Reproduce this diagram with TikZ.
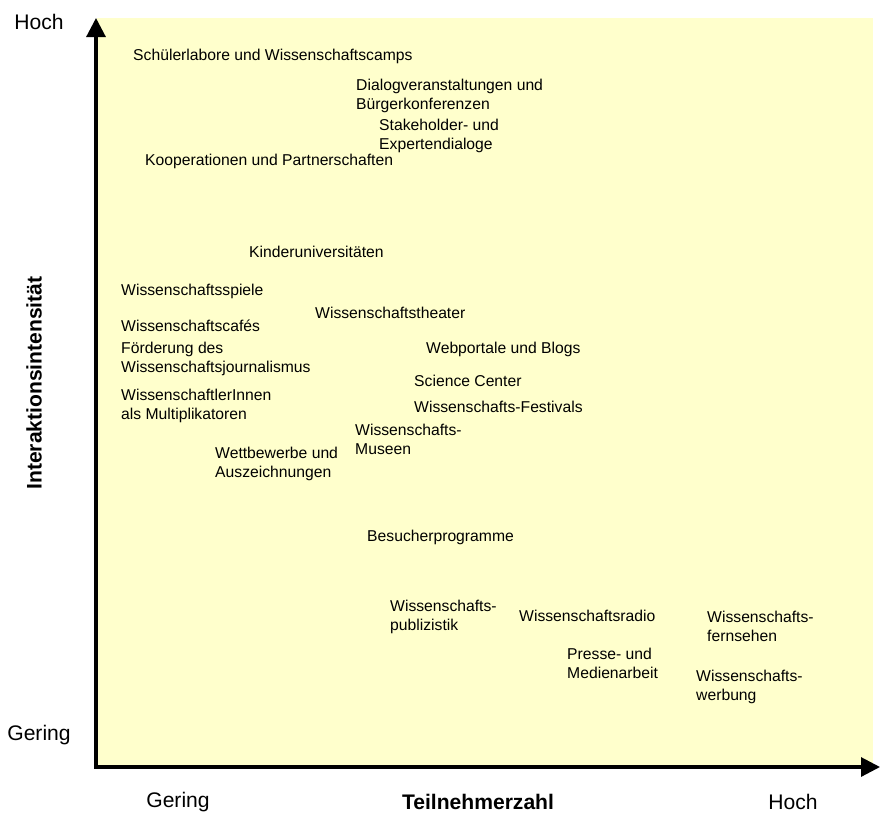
\documentclass[tikz,border=0pt]{standalone}
\usepackage{fontspec}
\setmainfont{Liberation Sans}
\usetikzlibrary{arrows.meta}
\definecolor{paleyellow}{RGB}{255,255,204}
\tikzset{
  item/.style={anchor=west,inner sep=0pt,align=left,font=\fontsize{13.4}{16.2}\selectfont},
  level/.style={inner sep=0pt,font=\fontsize{18}{21}\selectfont},
  title/.style={inner sep=0pt,font=\fontsize{18}{21}\selectfont\bfseries},
  axis/.style={line width=2.6pt,{Triangle[length=0.57cm,width=0.57cm]}-{Triangle[length=0.57cm,width=0.57cm]}}
}

\begin{document}
\begin{tikzpicture}[x=0.03cm,y=-0.03cm]
\useasboundingbox (0,0) rectangle (880,813);
\fill[paleyellow] (97,18) rectangle (873,767);
\coordinate (top) at (96,18);
\coordinate (o) at (96,767);
\coordinate (right) at (880,767);
\draw[axis] (top)--(o)--(right);
\node[level] (yhigh) at (39,22) {Hoch};
\node[level] (ylow) at (39,735) {Gering};
\node[level] (xlow) at (178,802) {Gering};
\node[title] (xname) at (478,802) {Teilnehmerzahl};
\node[level] (xhigh) at (793,802) {Hoch};
\node[title,rotate=90] (yname) at (34,383) {Interaktionsintensität};
\node[item] (labs) at (133,56) {Schülerlabore und Wissenschaftscamps};
\node[item] (dialog) at (356,95.5) {Dialogveranstaltungen und\\Bürgerkonferenzen};
\node[item] (stake) at (379,136) {Stakeholder- und\\Expertendialoge};
\node[item] (koop) at (145,161) {Kooperationen und Partnerschaften};
\node[item] (kinder) at (249,252) {Kinderuniversitäten};
\node[item] (spiele) at (121,291) {Wissenschaftsspiele};
\node[item] (theater) at (315,313) {Wissenschaftstheater};
\node[item] (cafes) at (121,326) {Wissenschaftscafés};
\node[item] (journ) at (121,359) {Förderung des\\Wissenschaftsjournalismus};
\node[item] (web) at (426,349) {Webportale und Blogs};
\node[item] (center) at (414,381) {Science Center};
\node[item] (multi) at (121,405.5) {WissenschaftlerInnen\\als Multiplikatoren};
\node[item] (fest) at (414,407) {Wissenschafts-Festivals};
\node[item] (museen) at (355,439.5) {Wissenschafts-\\Museen};
\node[item] (wettb) at (215,464) {Wettbewerbe und\\Auszeichnungen};
\node[item] (besuch) at (367,537) {Besucherprogramme};
\node[item] (publ) at (390,617) {Wissenschafts-\\publizistik};
\node[item] (radio) at (519,616) {Wissenschaftsradio};
\node[item] (tv) at (707,626) {Wissenschafts-\\fernsehen};
\node[item] (presse) at (567,663) {Presse- und\\Medienarbeit};
\node[item] (werb) at (696,686.5) {Wissenschafts-\\werbung};
\end{tikzpicture}
\end{document}
